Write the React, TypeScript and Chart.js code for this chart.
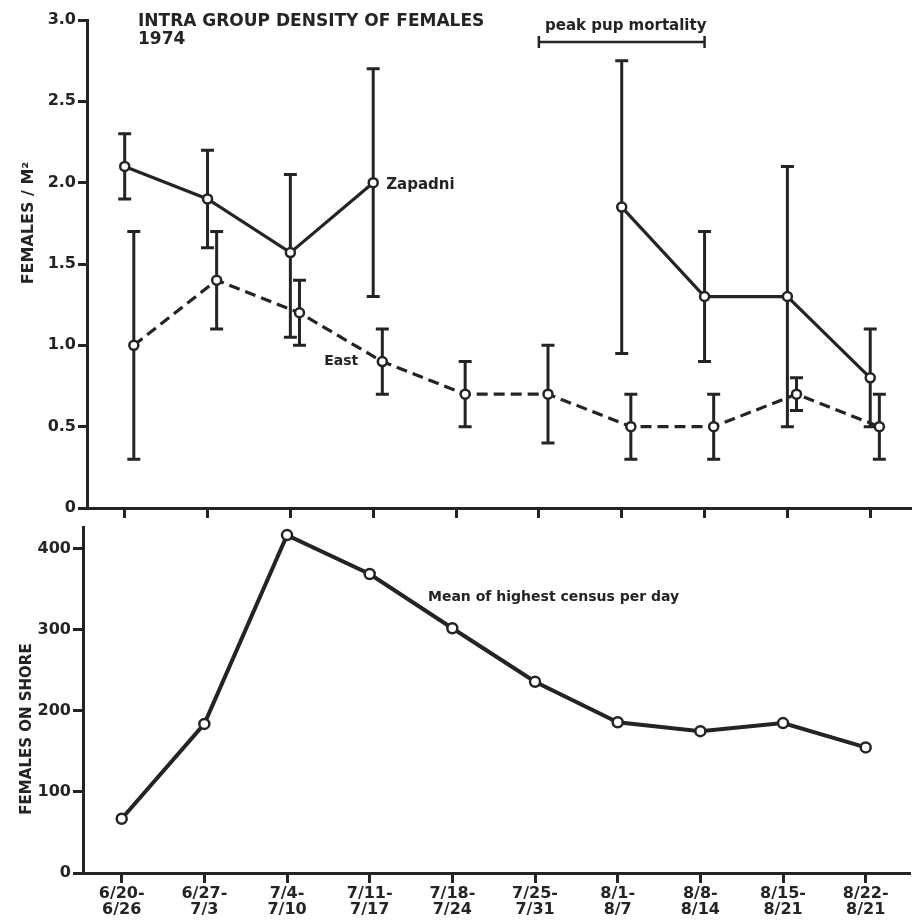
import React, { useEffect, useRef } from "react";
import { Chart, registerables } from "chart.js";
Chart.register(...registerables);

const weekLabels = [
  ["6/20-", "6/26"], ["6/27-", "7/3"], ["7/4-", "7/10"], ["7/11-", "7/17"], ["7/18-", "7/24"],
  ["7/25-", "7/31"], ["8/1-", "8/7"], ["8/8-", "8/14"], ["8/15-", "8/21"], ["8/22-", "8/21"],
];
const zapadniMean = [2.1, 1.9, 1.57, 2.0, null, null, 1.85, 1.3, 1.3, 0.8];
const zapadniLow = [1.9, 1.6, 1.05, 1.3, null, null, 0.95, 0.9, 0.5, 0.5];
const zapadniHigh = [2.3, 2.2, 2.05, 2.7, null, null, 2.75, 1.7, 2.1, 1.1];
const eastMean = [1.0, 1.4, 1.2, 0.9, 0.7, 0.7, 0.5, 0.5, 0.7, 0.5];
const eastLow = [0.3, 1.1, 1.0, 0.7, 0.5, 0.4, 0.3, 0.3, 0.6, 0.3];
const eastHigh = [1.7, 1.7, 1.4, 1.1, 0.9, 1.0, 0.7, 0.7, 0.8, 0.7];
const femalesOnShore = [67, 184, 417, 369, 302, 236, 186, 175, 185, 155];
const densityTicks = [0, 0.5, 1, 1.5, 2, 2.5, 3];
const shoreTicks = [0, 100, 200, 300, 400];
const eastOffset = 0.11;

const INK = "#242424";
const FONT = "DejaVu Sans";

function App() {
  const topRef = useRef<HTMLCanvasElement>(null);
  const botRef = useRef<HTMLCanvasElement>(null);

  useEffect(() => {
    const errorBars = {
      id: "errorBars",
      beforeDatasetsDraw(chart: any) {
        const ctx = chart.ctx;
        const xs = chart.scales.x;
        const ys = chart.scales.y;
        const sets = [
          { off: 0, lo: zapadniLow, hi: zapadniHigh },
          { off: eastOffset, lo: eastLow, hi: eastHigh },
        ];
        ctx.save();
        ctx.strokeStyle = INK;
        ctx.lineWidth = 3;
        ctx.lineCap = "butt";
        sets.forEach((s) => {
          s.lo.forEach((lo, i) => {
            const hi = s.hi[i];
            if (lo == null || hi == null) return;
            const x = xs.getPixelForValue(i + s.off);
            const y1 = ys.getPixelForValue(lo);
            const y2 = ys.getPixelForValue(hi);
            ctx.beginPath();
            ctx.moveTo(x, y1);
            ctx.lineTo(x, y2);
            ctx.moveTo(x - 6.5, y1);
            ctx.lineTo(x + 6.5, y1);
            ctx.moveTo(x - 6.5, y2);
            ctx.lineTo(x + 6.5, y2);
            ctx.stroke();
          });
        });
        ctx.restore();
      },
    };

    const topText = {
      id: "topText",
      afterDraw(chart: any) {
        const ctx = chart.ctx;
        const xs = chart.scales.x;
        const ys = chart.scales.y;
        ctx.save();
        ctx.fillStyle = INK;
        ctx.strokeStyle = INK;
        ctx.textBaseline = "middle";
        ctx.font = `bold 17px "${FONT}"`;
        ctx.textAlign = "left";
        ctx.fillText("INTRA GROUP DENSITY OF FEMALES", 138, 22);
        ctx.fillText("1974", 138, 40);
        ctx.font = `bold 15px "${FONT}"`;
        ctx.textAlign = "center";
        ctx.fillText("peak pup mortality", xs.getPixelForValue(6) + 4, 26);
        const bx1 = xs.getPixelForValue(5);
        const bx2 = xs.getPixelForValue(7);
        ctx.lineWidth = 2.5;
        ctx.beginPath();
        ctx.moveTo(bx1, 42);
        ctx.lineTo(bx2, 42);
        ctx.moveTo(bx1, 36);
        ctx.lineTo(bx1, 48);
        ctx.moveTo(bx2, 36);
        ctx.lineTo(bx2, 48);
        ctx.stroke();
        ctx.font = `bold 15px "${FONT}"`;
        ctx.textAlign = "left";
        ctx.fillText("Zapadni", xs.getPixelForValue(3) + 13, ys.getPixelForValue(2.0) + 2);
        ctx.font = `bold 14px "${FONT}"`;
        ctx.textAlign = "right";
        ctx.fillText("East", xs.getPixelForValue(3) - 15, ys.getPixelForValue(0.9));
        ctx.translate(29, 223);
        ctx.rotate(-Math.PI / 2);
        ctx.textAlign = "center";
        ctx.font = `bold 16px "${FONT}"`;
        ctx.fillText("FEMALES / M²", 0, 0);
        ctx.restore();
      },
    };

    const botText = {
      id: "botText",
      afterDraw(chart: any) {
        const ctx = chart.ctx;
        ctx.save();
        ctx.fillStyle = INK;
        ctx.textBaseline = "middle";
        ctx.font = `bold 14px "${FONT}"`;
        ctx.textAlign = "left";
        ctx.fillText("Mean of highest census per day", 428, 82);
        ctx.translate(27, 214);
        ctx.rotate(-Math.PI / 2);
        ctx.textAlign = "center";
        ctx.font = `bold 15px "${FONT}"`;
        ctx.fillText("FEMALES ON SHORE", 0, 0);
        ctx.restore();
      },
    };

    const gridCommon = { drawOnChartArea: false, drawTicks: true, color: INK, lineWidth: 3 };
    const borderCommon = { display: true, color: INK, width: 3 };

    const top = new Chart(topRef.current as HTMLCanvasElement, {
      type: "line",
      data: {
        datasets: [
          {
            label: "Zapadni",
            data: zapadniMean.map((v, i) => ({ x: i, y: v })),
            borderColor: INK,
            borderWidth: 3.2,
            pointRadius: 4.5,
            pointBorderWidth: 2.5,
            pointBackgroundColor: "#fff",
            pointBorderColor: INK,
            spanGaps: false,
          },
          {
            label: "East",
            data: eastMean.map((v, i) => ({ x: i + eastOffset, y: v })),
            borderColor: INK,
            borderWidth: 3.2,
            borderDash: [11, 6],
            pointRadius: 4.5,
            pointBorderWidth: 2.5,
            pointBackgroundColor: "#fff",
            pointBorderColor: INK,
          },
        ],
      },
      options: {
        responsive: false,
        animation: false,
        layout: { padding: { top: 20, right: 0, left: 0, bottom: 0 } },
        plugins: { legend: { display: false }, tooltip: { enabled: false } },
        scales: {
          x: {
            type: "linear",
            min: -0.455,
            max: 9.48,
            afterBuildTicks: (s: any) => {
              s.ticks = weekLabels.map((_, i) => ({ value: i }));
            },
            ticks: { display: false },
            grid: { ...gridCommon, tickLength: 10 },
            border: borderCommon,
            afterFit: (s: any) => {
              s.height = 22;
            },
          },
          y: {
            type: "linear",
            min: 0,
            max: 3,
            afterBuildTicks: (s: any) => {
              s.ticks = densityTicks.map((v) => ({ value: v }));
            },
            ticks: {
              color: INK,
              font: { family: FONT, size: 16, weight: "bold" },
              padding: 2,
              callback: (v: any) => (v === 0 ? "0" : Number(v).toFixed(1)),
            },
            grid: { ...gridCommon, tickLength: 9 },
            border: borderCommon,
            afterFit: (s: any) => {
              s.width = 87;
            },
          },
        },
      } as any,
      plugins: [errorBars, topText],
    });

    const bot = new Chart(botRef.current as HTMLCanvasElement, {
      type: "line",
      data: {
        datasets: [
          {
            label: "Mean of highest census per day",
            data: femalesOnShore.map((v, i) => ({ x: i, y: v })),
            borderColor: INK,
            borderWidth: 4,
            pointRadius: 5,
            pointBorderWidth: 2.5,
            pointBackgroundColor: "#fff",
            pointBorderColor: INK,
          },
        ],
      },
      options: {
        responsive: false,
        animation: false,
        layout: { padding: { top: 12, right: 0, left: 0, bottom: 0 } },
        plugins: { legend: { display: false }, tooltip: { enabled: false } },
        scales: {
          x: {
            type: "linear",
            min: -0.468,
            max: 9.53,
            afterBuildTicks: (s: any) => {
              s.ticks = weekLabels.map((_, i) => ({ value: i }));
            },
            ticks: {
              color: INK,
              autoSkip: false,
              maxRotation: 0,
              padding: 2,
              font: { family: FONT, size: 16, weight: "bold", lineHeight: 1.05 },
              callback: (v: any) => weekLabels[Math.round(Number(v))] || "",
            },
            grid: { ...gridCommon, tickLength: 10 },
            border: borderCommon,
            afterFit: (s: any) => {
              s.height = 50;
            },
          },
          y: {
            type: "linear",
            min: 0,
            max: 427,
            afterBuildTicks: (s: any) => {
              s.ticks = shoreTicks.map((v) => ({ value: v }));
            },
            ticks: {
              color: INK,
              font: { family: FONT, size: 16, weight: "bold" },
              padding: 2,
            },
            grid: { ...gridCommon, tickLength: 10 },
            border: borderCommon,
            afterFit: (s: any) => {
              s.width = 83;
            },
          },
        },
      } as any,
      plugins: [botText],
    });

    return () => {
      top.destroy();
      bot.destroy();
    };
  }, []);

  return (
    <div style={{ position: "absolute", left: 0, top: 0, width: 917, height: 923, background: "#fff" }}>
      <canvas ref={topRef} width={917} height={530} style={{ position: "absolute", left: 0, top: 0, width: 917, height: 530 }} />
      <canvas ref={botRef} width={917} height={408} style={{ position: "absolute", left: 0, top: 515, width: 917, height: 408 }} />
    </div>
  );
}

export default App;
